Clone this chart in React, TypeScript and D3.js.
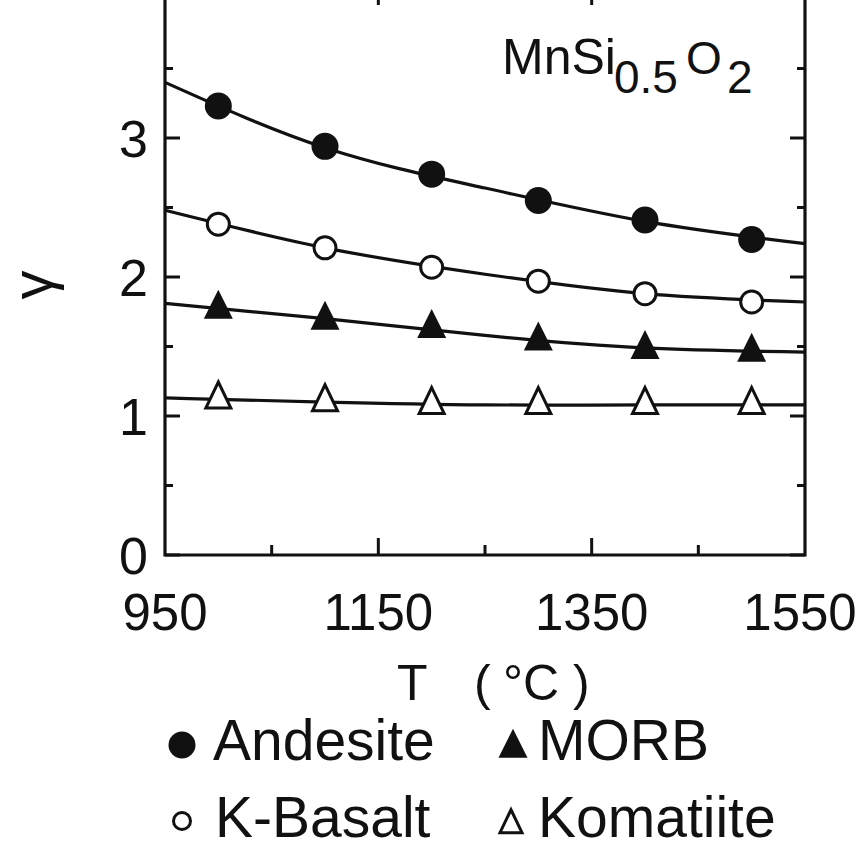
import React from 'react';
import * as d3 from 'd3';

// temperatures of the measured points (°C)
const temps = [1000, 1100, 1200, 1300, 1400, 1500];

// activity coefficient γ
const andesite = [3.23, 2.94, 2.74, 2.55, 2.41, 2.27];
const kBasalt = [2.38, 2.21, 2.07, 1.97, 1.88, 1.82];
const morb = [1.77, 1.69, 1.63, 1.54, 1.48, 1.46];
const komatiite = [1.12, 1.10, 1.08, 1.08, 1.08, 1.08];

// fitted curves
const fitTemps = [950, 1100, 1250, 1400, 1550];
const andesiteFit = [3.40, 2.93, 2.64, 2.40, 2.24];
const kBasaltFit = [2.48, 2.21, 2.02, 1.88, 1.82];
const morbFit = [1.81, 1.70, 1.58, 1.49, 1.46];
const komatiiteFit = [1.13, 1.10, 1.08, 1.08, 1.08];

const xMajor = [950, 1150, 1350, 1550];
const xMinor = [1050, 1250, 1450];
const yMajor = [0, 1, 2, 3];
const yMinor = [0.5, 1.5, 2.5, 3.5];

const FONT = '"Liberation Sans", Arial, sans-serif';
const INK = '#111';

const x = d3.scaleLinear().domain([950, 1550]).range([165, 805]);
const y = d3.scaleLinear().domain([0, 3]).range([555, 138]);
const top = -12;

const line = d3.line<[number, number]>()
  .x(d => x(d[0]))
  .y(d => y(d[1]))
  .curve(d3.curveNatural);

// triangle centred on its centroid
const tri = (cx: number, cy: number, w: number, h: number) =>
  `M${cx},${cy - (2 * h) / 3}L${cx + w / 2},${cy + h / 3}L${cx - w / 2},${cy + h / 3}Z`;

type Kind = 'dot' | 'circle' | 'tri' | 'otri';

const series: { name: string; values: number[]; fit: number[]; kind: Kind }[] = [
  { name: 'Andesite', values: andesite, fit: andesiteFit, kind: 'dot' },
  { name: 'K-Basalt', values: kBasalt, fit: kBasaltFit, kind: 'circle' },
  { name: 'MORB', values: morb, fit: morbFit, kind: 'tri' },
  { name: 'Komatiite', values: komatiite, fit: komatiiteFit, kind: 'otri' },
];

const Marker = ({ kind, cx, cy, small }: { kind: Kind; cx: number; cy: number; small?: boolean }) => {
  if (kind === 'dot') return <circle cx={cx} cy={cy} r={13.5} fill={INK} />;
  if (kind === 'circle')
    return <circle cx={cx} cy={cy} r={small ? 8.5 : 11} fill="#fff" stroke={INK} strokeWidth={3} />;
  if (kind === 'tri') return <path d={tri(cx, cy, 29, 29)} fill={INK} />;
  const s = small ? 0.88 : 1;
  return <path d={tri(cx, cy, 25 * s, 26 * s)} fill="#fff" stroke={INK} strokeWidth={3} />;
};

const App = () => {
  const x0 = x.range()[0];
  const x1 = x.range()[1];
  const y0 = y(0);

  return (
    <svg width={860} height={851} style={{ position: 'absolute', left: 0, top: 0, background: '#fff' }}
      fontFamily={FONT}>
      <rect width={860} height={851} fill="#fff" />

      {/* frame */}
      <path d={`M${x0},${top}V${y0}H${x1}V${top}Z`} fill="none" stroke={INK} strokeWidth={3.2} />

      {/* y ticks, left and right, pointing inward */}
      {yMajor.map(v => (
        <g key={'ym' + v}>
          <line x1={x0} x2={x0 + 15} y1={y(v)} y2={y(v)} stroke={INK} strokeWidth={3} />
          <line x1={x1} x2={x1 - 15} y1={y(v)} y2={y(v)} stroke={INK} strokeWidth={3} />
          <text x={148} y={y(v)} dy="0.36em" textAnchor="end" fontSize={52} fill={INK}>{v}</text>
        </g>
      ))}
      {yMinor.map(v => (
        <g key={'yn' + v}>
          <line x1={x0} x2={x0 + 8} y1={y(v)} y2={y(v)} stroke={INK} strokeWidth={3} />
          <line x1={x1} x2={x1 - 8} y1={y(v)} y2={y(v)} stroke={INK} strokeWidth={3} />
        </g>
      ))}

      {/* x ticks, bottom and top */}
      {xMajor.map(v => (
        <g key={'xm' + v}>
          {v !== 950 && v !== 1550 && (
            <>
              <line x1={x(v)} x2={x(v)} y1={y0} y2={y0 - 17} stroke={INK} strokeWidth={3} />
              <line x1={x(v)} x2={x(v)} y1={top} y2={top + 17} stroke={INK} strokeWidth={3} />
            </>
          )}
          <text x={x(v)} dx={v === 1550 ? -5 : 0} y={630} textAnchor="middle" fontSize={51} fill={INK}>{v}</text>
        </g>
      ))}
      {xMinor.map(v => (
        <g key={'xn' + v}>
          <line x1={x(v)} x2={x(v)} y1={y0} y2={y0 - 10} stroke={INK} strokeWidth={3} />
          <line x1={x(v)} x2={x(v)} y1={top} y2={top + 10} stroke={INK} strokeWidth={3} />
        </g>
      ))}

      {/* fitted curves */}
      {series.map(s => (
        <path key={s.name + 'fit'} d={line(fitTemps.map((t, i) => [t, s.fit[i]] as [number, number])) || ''}
          fill="none" stroke={INK} strokeWidth={3.2} />
      ))}

      {/* data points */}
      {series.map(s =>
        s.values.map((v, i) => <Marker key={s.name + i} kind={s.kind} cx={x(temps[i])} cy={y(v)} />)
      )}

      {/* compound label */}
      <text y={74} fill={INK}>
        <tspan x={502} fontSize={50}>MnSi</tspan>
        <tspan x={614} y={93} fontSize={46}>0.5</tspan>
        <tspan x={686} y={74} fontSize={46}>O</tspan>
        <tspan x={727} y={93} fontSize={46}>2</tspan>
      </text>

      {/* axis titles */}
      <text transform="translate(52,285) rotate(-90)" textAnchor="middle" fontSize={58} fill={INK}>γ</text>
      <text y={700} fontSize={50} fill={INK}>
        <tspan x={397}>T</tspan>
        <tspan x={474}>(</tspan>
        <tspan x={503}>°C</tspan>
        <tspan x={573}>)</tspan>
      </text>

      {/* legend */}
      <Marker kind="dot" cx={182} cy={745} small />
      <text x={213} y={760} fontSize={57} fill={INK}>Andesite</text>
      <Marker kind="tri" cx={513} cy={748} />
      <text x={538} y={760} fontSize={57} fill={INK}>MORB</text>
      <Marker kind="circle" cx={182} cy={821} small />
      <text x={215} y={837} fontSize={57} fill={INK}>K-Basalt</text>
      <Marker kind="otri" cx={511} cy={825} small />
      <text x={538} y={837} fontSize={57} fill={INK}>Komatiite</text>
    </svg>
  );
};

export default App;
